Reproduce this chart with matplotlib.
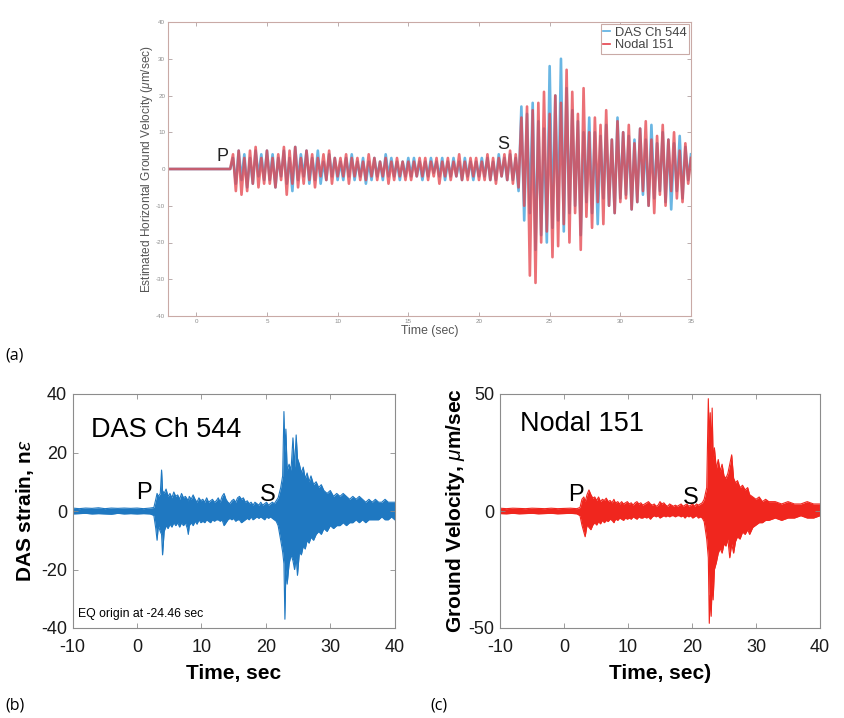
import numpy as np
import matplotlib
matplotlib.use("Agg")
import matplotlib.pyplot as plt
from matplotlib.lines import Line2D

plt.rcParams['font.family'] = ['Liberation Sans', 'DejaVu Sans']
plt.rcParams['mathtext.fontset'] = 'custom'
plt.rcParams['mathtext.it'] = 'Liberation Sans:italic'
plt.rcParams['mathtext.bf'] = 'Liberation Sans:bold'
plt.rcParams['mathtext.rm'] = 'Liberation Sans'
plt.rcParams['axes.unicode_minus'] = False

# ---------------- (a) overlay: peak values every 0.2 s ----------------
top_start = -2.0
top_step = 0.2
top_quiet = [0.0] * 23          # -2.0 ... 2.4 s, flat before P
das_top = top_quiet + [
    3, -4, 5, -3, 4, -5, 3, -4, 5, -2, 4, -3, 5,
    -3, 4, -5, 3, -2, 5, -4, 3, -6, 6, -3, 4, -2, 5, -4, 3, -3, 5, -4, 2, -3, 4, -2, 3, -3,
    2, -3, 3, -2, 4, -3, 2, -2, 3, -4, 2, -3, 3, -2, 2, -3, 4, -2, 3, -2, 2, -3, 2, -2, 3,
    -2, 3, -2, 2, -3, 2, -2, 3, -1, 2, -2, 3, -3, 2, -2, 3, -2, 2, -3, 3, -2, 2, -3, 2, -2,
    3, -2, 3, -3, 2, -3, 4, -2, 3, -3, 4, -3,
    3, -6, 17, -14, 15, -12, 18, -22, 13, -18, 11, -20, 28, -16, 20, -14, 30, -17, 22, -12,
    16, -10, 13, -18, 10, -9, 14, -12, 10, -15, 9, -8, 12, -10, 8, -12, 14, -8, 10, -7,
    9, -11, 8, -9, 11, -7, 8, -10, 12, -8, 7, -6, 10, -9, 8, -11, 7, -6, 9, -8, 6, -3, 4]
nodal_top = top_quiet + [
    4, -6, 5, -7, 3, -6, 5, -4, 6, -5, 3, -4, 5,
    -4, 3, -5, 4, -3, 6, -7, 5, -4, 6, -5, 3, -4, 5, -3, 4, -5, 3, -2, 4, -3, 5, -4, 3, -2,
    3, -2, 4, -4, 3, -2, 3, -3, 2, -3, 4, -2, 3, -3, 2, -2, 3, -4, 2, -3, 3, -2, 2, -3, 2,
    -3, 2, -2, 3, -2, 3, -3, 2, -2, 3, -4, 2, -2, 3, -3, 2, -2, 4, -3, 2, -3, 3, -2, 3, -3,
    2, -3, 4, -3, 3, -4, 3, -2, 4, -3, 5, -4,
    4, -5, 14, -10, 17, -29, 16, -31, 18, -20, 21, -17, 15, -24, 20, -21, 18, -15, 27, -20,
    21, -12, 15, -22, 22, -13, 10, -16, 14, -9, 12, -15, 16, -10, 8, -12, 13, -9, 10, -8,
    12, -11, 7, -9, 11, -6, 13, -10, 8, -12, 9, -7, 12, -10, 8, -6, 10, -8, 5, -9, 7, -4, 3]

# ---------------- (b) DAS strain envelope ----------------
das_t_pre = [-10, -9, -8, -7, -6, -5, -4, -3, -2, -1, 0, 1, 2, 2.6, 2.9, 3.1, 3.3, 3.6, 3.8, 3.95]
das_hi_pre = [1.0, 0.8, 1.0, 0.9, 1.1, 0.8, 1.0, 0.9, 1.0, 0.9, 1.0, 0.8, 1.0, 1.2, 4, 6, 5, 6, 14, 7]
das_lo_pre = [-1.0, -0.9, -0.8, -1.0, -0.9, -1.0, -1.1, -0.8, -1.0, -0.9, -1.0, -0.9, -1.0, -1.5, -6, -10, -5, -7, -8, -15]

coda_t = [4.2, 4.5, 4.8, 5.1, 5.4, 5.7, 6.0, 6.3, 6.6, 6.9, 7.2, 7.5, 7.8, 7.95, 8.1, 8.4, 8.7,
          9.0, 9.3, 9.6, 9.9, 10.2, 10.5, 10.8, 11.1, 11.4, 11.7, 12.0, 12.3, 12.6, 12.9, 13.2,
          13.5, 13.8, 14.1, 14.4, 14.7, 15.0, 15.3, 15.6, 15.9, 16.2, 16.5, 16.8, 17.1, 17.4,
          17.7, 18.0, 18.3, 18.6, 18.9, 19.2, 19.5, 19.8, 20.1, 20.4, 20.7, 21.0, 21.3, 21.6, 21.9]
das_hi_coda = [6, 7.5, 5, 6, 4.5, 6.5, 5, 5.5, 4, 6, 4.5, 5, 4, 3.5, 5, 4, 5.5, 4, 3, 4.5,
               3.5, 4, 3, 4.5, 3, 3.5, 4, 3, 3.5, 4.5, 3, 5, 6, 4, 3, 2.5, 3.5, 4, 3, 4.5,
               5, 4, 4.5, 3, 3.5, 2.5, 3, 2, 3, 2.5, 2, 3, 2, 2.5, 3, 2, 2.5, 3, 2.5, 3.5, 4.5]
das_lo_coda = [-7, -5, -6, -4.5, -5.5, -4, -5, -4, -5.5, -4, -5, -4, -6, -8, -5, -4, -5, -3.5, -4.5, -3,
               -4, -3.5, -4, -3, -3.5, -4, -3, -3.5, -3, -3, -3.5, -3, -5, -4, -3, -2.5, -3, -2.5, -3.5, -3,
               -3, -4, -3.5, -3, -2.5, -3, -2, -3, -2.5, -2, -2.5, -2, -2.5, -3, -2, -2.5, -2, -2.5, -3, -3.5, -5]

das_t_s = [22.3, 22.6, 22.8, 22.95, 23.1, 23.3, 23.6, 23.9, 24.2, 24.45, 24.7, 24.9, 25.2, 25.5,
           25.8, 26.1, 26.4, 26.7, 27.0, 27.4, 27.8, 28.2, 28.6, 29.0, 29.5, 30.0, 30.5, 31.0,
           31.5, 32.0, 32.5, 33.0, 33.5, 34.0, 34.5, 35.0, 35.5, 36.0, 36.5, 37.0, 37.5, 38.0,
           38.5, 39.0, 39.5, 40.0]
das_hi_s = [8, 12, 34, 20, 28, 14, 16, 14, 25, 15, 26, 18, 16, 13, 15, 11, 13, 10, 12, 9,
            10, 8, 9, 7, 6, 7, 5, 6, 5, 6, 5, 4, 5, 4, 5, 4, 3, 4, 3, 4, 3, 3, 4, 3, 3, 3]
das_lo_s = [-10, -14, -18, -37, -20, -25, -18, -15, -17, -20, -16, -22, -14, -15, -12, -13, -10, -11, -9, -10,
            -8, -7, -8, -6, -7, -5, -6, -5, -5, -4, -5, -4, -4, -3, -4, -3, -4, -3, -3, -3, -3, -2, -3, -3, -2, -3]

# ---------------- (c) Nodal velocity envelope ----------------
nod_t_pre = [-10, -9, -8, -7, -6, -5, -4, -3, -2, -1, 0, 1, 2, 2.5, 2.8, 3.1, 3.3, 3.6, 3.9]
nod_hi_pre = [1.2, 1.0, 1.2, 1.1, 1.0, 1.2, 1.1, 1.0, 1.2, 1.0, 1.1, 1.2, 1.0, 1.5, 5, 6, 4, 7, 9]
nod_lo_pre = [-1.1, -1.2, -1.0, -1.2, -1.1, -1.0, -1.2, -1.1, -1.0, -1.2, -1.1, -1.0, -1.2, -2, -6, -9, -11, -6, -7]
nod_hi_coda = [7, 5.5, 6, 4.5, 6, 4, 5, 4.5, 5.5, 4, 4.5, 3.5, 5, 4, 3.5, 4, 3, 4, 3, 3.5,
               4, 3, 3.5, 2.5, 3.5, 4, 3, 3.5, 2.5, 3, 3.5, 4, 3, 2.5, 3, 2, 2.5, 4, 3, 3.5,
               2.5, 2, 3, 2.5, 2, 2.5, 2, 2.5, 3, 2, 2.5, 3, 2, 2.5, 3, 2, 3, 2.5, 3, 3.5, 5]
nod_lo_coda = [-8, -6, -5, -6, -4.5, -5.5, -4, -5, -4, -4.5, -3.5, -4, -5, -4, -3.5, -4, -3, -3.5, -4, -3,
               -3.5, -3, -3.5, -2.5, -3, -3.5, -2.5, -3, -3, -2.5, -3, -2.5, -3.5, -2.5, -2, -2.5, -2, -3, -2.5, -2,
               -2.5, -2, -2.5, -2, -2, -2.5, -2, -2, -2.5, -2, -3, -2, -2.5, -2, -3, -2.5, -2, -3, -2.5, -3, -4.5]
nod_t_s = [22.3, 22.55, 22.7, 22.85, 23.0, 23.15, 23.3, 23.5, 23.8, 24.1, 24.4, 24.7,
           25.0, 25.3, 25.6, 25.9, 26.2, 26.5, 26.8, 27.1, 27.5, 27.9, 28.3, 28.7, 29.0, 29.5,
           30, 30.5, 31, 31.5, 32, 33, 34, 35, 36, 37, 38, 39, 40]
nod_hi_s = [10, 48, 30, 42, 25, 44, 22, 27, 18, 22, 17, 20,
            15, 14, 16, 20, 24, 14, 12, 13, 10, 11, 9, 10, 7, 6,
            5, 6, 4, 5, 4, 4, 3, 4, 3, 3, 4, 3, 3]
nod_lo_s = [-12, -20, -48, -36, -45, -30, -38, -25, -22, -18, -16, -18,
            -14, -15, -12, -20, -14, -18, -13, -11, -12, -9, -10, -8, -10, -7,
            -6, -5, -5, -4, -4, -3, -4, -3, -3, -2, -3, -3, -2]

das_t = das_t_pre + coda_t + das_t_s
das_hi = das_hi_pre + das_hi_coda + das_hi_s
das_lo = das_lo_pre + das_lo_coda + das_lo_s
nod_t = nod_t_pre + coda_t + nod_t_s
nod_hi = nod_hi_pre + nod_hi_coda + nod_hi_s
nod_lo = nod_lo_pre + nod_lo_coda + nod_lo_s

# ---------------- figure ----------------
fig = plt.figure(figsize=(8.45, 7.18), dpi=100)
fig.patch.set_facecolor('white')

# (a)
ax = fig.add_axes([168/845, 1-316/718, 523/845, 294/718])
t_top = top_start + top_step*np.arange(len(das_top))
t_top2 = top_start + top_step*np.arange(len(nodal_top))
blue_a = '#5aaee0'
red_a = '#e5414a'
ax.plot(t_top, das_top, color=blue_a, lw=1.9, alpha=0.9)
ax.plot(t_top2, nodal_top, color=red_a, lw=1.9, alpha=0.75)
ax.set_xlim(-2, 35)
ax.set_ylim(-40, 40)
ax.set_xticks(np.arange(0, 36, 5))
ax.set_yticks(np.arange(-40, 41, 10))
sp_col = '#c9aaa6'
for s in ax.spines.values():
    s.set_color(sp_col)
    s.set_linewidth(0.8)
ax.tick_params(direction='in', length=3, width=0.6, color='#b0a0a0', labelsize=4.5,
               labelcolor='#8a8a8a', top=True, right=True, pad=2)
ax.set_xlabel('Time (sec)', fontsize=8.8, color='#555555', labelpad=1)
ax.set_ylabel(r'Estimated Horizontal Ground Velocity ($\mu$m/sec)', fontsize=8.6,
              color='#555555', labelpad=1)
ax.text(1.45, 3.4, 'P', fontsize=13, color='#222222', va='center', ha='left')
ax.text(21.3, 6.8, 'S', fontsize=13, color='#222222', va='center', ha='left')
handles = [Line2D([], [], color=blue_a, lw=1.2), Line2D([], [], color=red_a, lw=1.2)]
leg = ax.legend(handles, ['DAS Ch 544', 'Nodal 151'], loc='upper right', fontsize=9.3,
                handlelength=0.5, handletextpad=0.4, borderpad=0.2, labelspacing=0.05,
                fancybox=False, framealpha=1, borderaxespad=0.15)
leg.get_frame().set_edgecolor('#c9aaa6')
leg.get_frame().set_linewidth(0.8)
for txt in leg.get_texts():
    txt.set_color('#444444')

# (b)
axb = fig.add_axes([72.7/845, 1-628/718, 322/845, 234/718])
blue_b = '#1f78c1'
axb.fill_between(das_t, das_lo, das_hi, color=blue_b, lw=0)
axb.plot(das_t, das_hi, color=blue_b, lw=0.8)
axb.plot(das_t, das_lo, color=blue_b, lw=0.8)
axb.set_xlim(-10, 40)
axb.set_ylim(-40, 40)
axb.set_xticks(np.arange(-10, 41, 10))
axb.set_yticks(np.arange(-40, 41, 20))
axb.set_xlabel('Time, sec', fontsize=15, fontweight='bold', labelpad=6)
axb.set_ylabel(r'DAS strain, n$\epsilon$', fontsize=15, fontweight='bold', labelpad=4)
axb.text(-7.1, 27.6, 'DAS Ch 544', fontsize=19.5, va='center', ha='left')
axb.text(-0.2, 6.0, 'P', fontsize=17, va='center', ha='left')
axb.text(19.0, 5.5, 'S', fontsize=17, va='center', ha='left')
axb.text(-9.1, -35.3, 'EQ origin at -24.46 sec', fontsize=8.8, va='center', ha='left')

# (c)
axc = fig.add_axes([500/845, 1-628/718, 320/845, 234/718])
red_c = '#f0261e'
axc.fill_between(nod_t, nod_lo, nod_hi, color=red_c, lw=0)
axc.plot(nod_t, nod_hi, color=red_c, lw=0.8)
axc.plot(nod_t, nod_lo, color=red_c, lw=0.8)
axc.set_xlim(-10, 40)
axc.set_ylim(-50, 50)
axc.set_xticks(np.arange(-10, 41, 10))
axc.set_yticks([-50, 0, 50])
axc.set_xlabel('Time, sec)', fontsize=15, fontweight='bold', labelpad=6)
axc.set_ylabel(r'Ground Velocity, $\mu$m/sec', fontsize=15, fontweight='bold', labelpad=1)
axc.text(-6.9, 37, 'Nodal 151', fontsize=19.5, va='center', ha='left')
axc.text(0.7, 7.0, 'P', fontsize=17, va='center', ha='left')
axc.text(18.6, 5.7, 'S', fontsize=17, va='center', ha='left')

for a in (axb, axc):
    for s in a.spines.values():
        s.set_color('#8c8c8c')
        s.set_linewidth(0.8)
    a.tick_params(direction='in', length=3.5, width=0.6, color='#8c8c8c', labelsize=13,
                  top=True, right=True, labelcolor='#1a1a1a')
    a.tick_params(axis='x', pad=8)
    a.tick_params(axis='y', pad=4)

# panel letters
fig.text(5/845, 1-355/718, '(a)', fontsize=11.5, family='Open Sans', va='center', ha='left')
fig.text(5/845, 1-705/718, '(b)', fontsize=11.5, family='Open Sans', va='center', ha='left')
fig.text(430/845, 1-705/718, '(c)', fontsize=11.5, family='Open Sans', va='center', ha='left')

fig.savefig('out.png', dpi=100, facecolor='white')
